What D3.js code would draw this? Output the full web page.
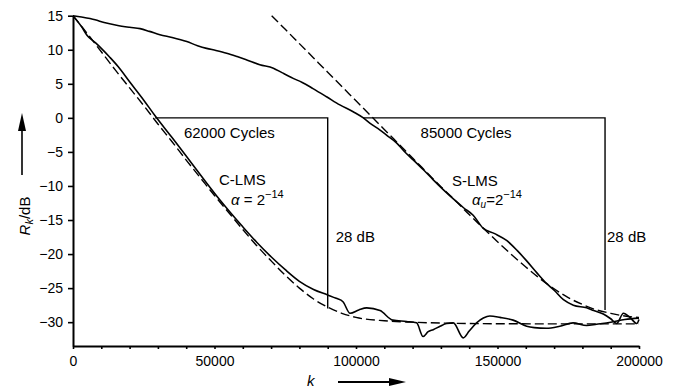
<!DOCTYPE html>
<html><head><meta charset="utf-8">
<script src="https://cdn.jsdelivr.net/npm/d3@7/dist/d3.min.js"></script>
<style>
body{margin:0;background:#fff;}
svg{display:block;}
text{font-family:"Liberation Sans",Arial,sans-serif;fill:#000;}
</style></head>
<body><svg id="c" width="680" height="389"></svg>
<script>
// k in thousands of cycles, R in dB
const kClmsSolid = [0,3,5,8,10,13,16,20,25,29,35,40,46,52,55,60,65,70,75,80,85,90,93,95.4,97.9,101,103.8,108.5,113,117.9,121.4,123.7,125.5,127.3,129.7,132,134.4,137.9,140,142.6,145,147.3,150.9,155.5,160.3,163,167.3,172,176.7,181.5,185,190,195,200];
const rClmsSolid = [15,13.4,12.1,11.0,10.2,8.9,7.5,5.3,2.6,0.3,-2.9,-5.6,-8.9,-12.1,-13.6,-16.0,-18.3,-20.4,-22.3,-24.0,-25.2,-26.0,-26.5,-27.0,-28.7,-28.2,-27.9,-28.3,-29.7,-29.9,-30.1,-32.1,-31.4,-31.1,-30.6,-30.2,-30.1,-32.3,-31.3,-30.1,-29.4,-29.1,-29.3,-29.7,-30.6,-30.8,-30.9,-30.6,-30.1,-30.5,-30.3,-30.0,-29.6,-29.4];

const kClmsDash = [0,5,10,15,20,25,30,35,40,45,50,55,60,65,70,75,80,85,90,95,100,110,120,140,170,200];
const rClmsDash = [15,12.4,9.7,7.0,4.4,1.8,-0.9,-3.5,-6.2,-8.8,-11.4,-13.9,-16.4,-18.8,-21.0,-23.1,-25.0,-26.6,-27.8,-28.7,-29.3,-29.8,-30.0,-30.2,-30.25,-30.25];

const kSlmsSolid = [0,3,7.8,11,15.4,20,23.7,27,30.7,35,40.2,44,47.2,50.5,54.3,58,61.4,66,70.8,74,77.8,81,84.8,89.6,94.3,99,102.6,105,108.5,111,114.4,117,120.3,124,127.3,131,135.5,138,141.4,144.9,149,153.2,157,160.3,164,167.3,170,173.3,176.8,181.5,184,187.4,190,192.1,194.5,196.8,199.2,200];
const rSlmsSolid = [15,14.8,14.4,14.0,13.6,13.3,13.1,12.7,12.2,11.8,11.2,10.6,10.2,9.9,9.5,9.0,8.5,7.8,7.3,6.6,5.8,5.2,4.3,3.1,1.9,0.9,0.0,-0.8,-1.8,-2.6,-3.7,-4.9,-6.2,-7.7,-9.1,-10.6,-12.3,-13.2,-14.3,-16.2,-17.0,-18.0,-19.5,-21.0,-22.8,-24.3,-25.3,-26.7,-27.5,-27.9,-28.3,-28.8,-29.5,-30.2,-28.7,-29.3,-30.2,-29.6];

const kSlmsDash = [70.2,75,80,85,90,95,100,105,110,115,120,125,130,135,140,145,150,155,160,165,170,175,180,185,190,195,200];
const rSlmsDash = [15,13.0,10.9,8.8,6.7,4.6,2.5,0.4,-1.7,-3.8,-5.9,-8.0,-10.1,-12.1,-14.2,-16.2,-18.2,-20.1,-21.9,-23.6,-25.1,-26.4,-27.4,-28.2,-28.7,-29.1,-29.3];

// annotation boxes: [kStart, kEnd, top dB, bottom dB]
const boxKStart = [29, 102.5];
const boxKEnd = [90, 188];
const boxTop = [0, 0];
const boxBottom = [-28, -28.2];
const boxCycles = ["62000 Cycles", "85000 Cycles"];
const boxDb = ["28 dB", "28 dB"];

const xTicks = [0,50000,100000,150000,200000];
const xMinorTicks = [10000,20000,30000,40000,60000,70000,80000,90000,110000,120000,130000,140000,160000,170000,180000,190000];
const yTicks = [15,10,5,0,-5,-10,-15,-20,-25,-30];

const svg = d3.select("#c");
const x = d3.scaleLinear().domain([0,200000]).range([73,639]);
const y = d3.scaleLinear().domain([-33.5,15]).range([346,15.7]);

const line = d3.line().x(d=>x(d[0]*1000)).y(d=>y(d[1])).curve(d3.curveMonotoneX);
const zip = (a,b)=>a.map((v,i)=>[v,b[i]]);

// axes
svg.append("g").attr("transform","translate(0,346)")
  .call(d3.axisBottom(x).tickValues(xTicks).tickSize(3).tickSizeOuter(0).tickPadding(7).tickFormat(d3.format("d")));
svg.append("g").attr("transform","translate(0,346)")
  .call(d3.axisBottom(x).tickValues(xMinorTicks).tickSize(3).tickSizeOuter(0).tickFormat(""))
  .select(".domain").remove();
svg.append("g").attr("transform","translate(73,0)")
  .call(d3.axisLeft(y).tickValues(yTicks).tickSize(5).tickSizeOuter(0).tickPadding(5).tickFormat(d3.format("d")));
svg.selectAll(".domain").attr("stroke","#000").attr("stroke-width",2);
svg.selectAll(".tick line").attr("stroke","#000").attr("stroke-width",1.6);
svg.selectAll(".tick text").style("font-size","14px").style("font-family","'Liberation Sans',Arial,sans-serif").attr("fill","#000");

// curves
const g = svg.append("g").attr("fill","none").attr("stroke","#000");
g.append("path").datum(zip(kClmsDash,rClmsDash)).attr("d",line).attr("stroke-width",1.4).attr("stroke-dasharray","9,4");
g.append("path").datum(zip(kSlmsDash,rSlmsDash)).attr("d",line).attr("stroke-width",1.4).attr("stroke-dasharray","9,4");
g.append("path").datum(zip(kClmsSolid,rClmsSolid)).attr("d",line).attr("stroke-width",1.6);
g.append("path").datum(zip(kSlmsSolid,rSlmsSolid)).attr("d",line).attr("stroke-width",1.6);

// boxes
const cycOffset = [-12, -18];
const dbOffset = [8, 2];
boxKStart.forEach((k0,i)=>{
  const x0=x(k0*1000), x1=x(boxKEnd[i]*1000), yt=y(boxTop[i]), yb=y(boxBottom[i]);
  svg.append("path").attr("d",`M${x0},${yt}H${x1}V${yb}`).attr("fill","none").attr("stroke","#000").attr("stroke-width",1.4);
  svg.append("text").attr("x",(x0+x1)/2 + cycOffset[i]).attr("y",yt+20).attr("text-anchor","middle").style("font-size","15px").text(boxCycles[i]);
  svg.append("text").attr("x",x1+dbOffset[i]).attr("y",242).style("font-size","15px").text(boxDb[i]);
});

// curve labels
svg.append("text").attr("x",219).attr("y",185).style("font-size","15px").text("C-LMS");
const t1 = svg.append("text").attr("x",231).attr("y",205).style("font-size","15px");
t1.append("tspan").style("font-style","italic").text("α");
t1.append("tspan").text(" = 2");
t1.append("tspan").attr("dy",-7).style("font-size","11px").text("−14");

svg.append("text").attr("x",452).attr("y",186).style("font-size","15px").text("S-LMS");
const t2 = svg.append("text").attr("x",472).attr("y",205).style("font-size","15px");
t2.append("tspan").style("font-style","italic").text("α");
t2.append("tspan").attr("dy",3).style("font-size","10px").style("font-style","italic").text("u");
t2.append("tspan").attr("dy",-3).text("=2");
t2.append("tspan").attr("dy",-7).style("font-size","11px").text("−14");

// axis titles
const yt = svg.append("text").attr("transform","translate(30,216) rotate(-90)").attr("text-anchor","middle").style("font-size","15px");
yt.append("tspan").style("font-style","italic").text("R");
yt.append("tspan").attr("dy",3).style("font-size","11px").style("font-style","italic").text("k");
yt.append("tspan").attr("dy",-3).text("/dB");
svg.append("line").attr("x1",22).attr("x2",22).attr("y1",175).attr("y2",128).attr("stroke","#000").attr("stroke-width",1.6);
svg.append("path").attr("d","M22,113L18,131L26,131Z").attr("fill","#000");

svg.append("text").attr("x",307).attr("y",386).style("font-size","15px").style("font-style","italic").text("k");
svg.append("line").attr("x1",338).attr("x2",392).attr("y1",382).attr("y2",382).attr("stroke","#000").attr("stroke-width",1.8);
svg.append("path").attr("d","M406,382L389,378L389,386Z").attr("fill","#000");
</script></body></html>
